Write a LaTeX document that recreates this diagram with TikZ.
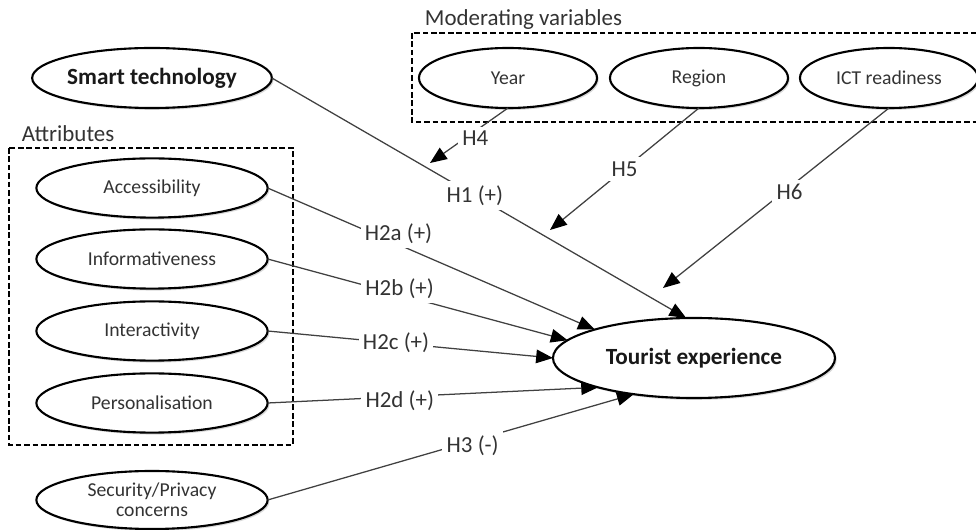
\documentclass[tikz,border=0pt]{standalone}
\usepackage{fontspec}
\setmainfont{Carlito}
\usetikzlibrary{arrows.meta,shapes.geometric,shadows}

\begin{document}
\begin{tikzpicture}
[x=0.025cm,y=-0.025cm
,var/.style={ellipse,draw,line width=1.5pt,fill=white,inner sep=0pt,outer sep=0pt
  ,minimum height=1.5cm,text=black!80,font=\fontsize{14}{14.5}\selectfont
  ,drop shadow={shadow xshift=1.2pt,shadow yshift=-1.4pt,opacity=.3}}
,attr/.style={var,minimum width=5.78cm,minimum height=1.48cm}
,moder/.style={var,minimum width=4.45cm}
,main/.style={var,font=\fontsize{16.5}{18}\selectfont\bfseries,text=black!90}
,grp/.style={draw,line width=1.2pt,dash pattern=on 4pt off 2pt}
,ttl/.style={anchor=west,font=\fontsize{16.3}{18}\selectfont,text=black!80}
,hyp/.style={fill=white,inner sep=3pt,font=\fontsize{16.3}{18}\selectfont,text=black!80}
,link/.style={draw=black!75,line width=0.9pt}
,be/.style={link,-{Triangle[length=0.42cm,width=0.34cm,color=black]}}
]
\useasboundingbox (0,0) rectangle (976,530);
% groups
\draw[grp] (9,148) rectangle (293,445);
\draw[grp] (412,33) rectangle (985,122);
\node[ttl] (attrlbl) at (17,134) {Attributes};
\node[ttl] (modlbl) at (420,20) {Moderating variables};
% constructs
\node[main,minimum width=5.73cm] (smart) at (152,78) {Smart technology};
\node[attr] (acc) at (152,188) {Accessibility};
\node[attr] (info) at (152,259) {Informativeness};
\node[attr] (inter) at (152,331) {Interactivity};
\node[attr] (pers) at (152,403) {Personalisation};
\node[attr,minimum height=1.45cm,align=center] (sec) at (152,500) {Security/Privacy\\concerns};
\node[moder] (year) at (508,78) {Year};
\node[moder] (region) at (699,78) {Region};
\node[moder] (ict) at (889,78) {ICT readiness};
\node[main,minimum width=7.05cm,minimum height=2cm] (te) at (694,358) {Tourist experience};
% moderation targets
\coordinate (m4) at (430,163);
\coordinate (m5) at (550,230);
\coordinate (m6) at (663,288);
% hypotheses
\draw[be] (smart.east) -- node[hyp,pos=.49]{H1 (+)} (te.101);
\draw[be] (acc.east) -- node[hyp,pos=.4,yshift=7.5pt]{H2a (+)} (te.164);
\draw[be] (info.east) -- node[hyp,pos=.44,yshift=4.3pt]{H2b (+)} (te.172);
\draw[be] (inter.east) -- node[hyp,pos=.45]{H2c (+)} (te.180);
\draw[be] (pers.east) -- node[hyp,pos=.4,yshift=-3pt]{H2d (+)} (te.197);
\draw[be] (sec.east) -- node[hyp,pos=.56,yshift=-3.5pt]{H3 (-)} (te.211);
\draw[be] (year.south) -- node[hyp,pos=.42,yshift=-5pt]{H4} (m4);
\draw[be] (region.south) -- node[hyp,pos=.5]{H5} (m5);
\draw[be] (ict.south) -- node[hyp,pos=.44,yshift=-3.5pt]{H6} (m6);
\end{tikzpicture}
\end{document}
